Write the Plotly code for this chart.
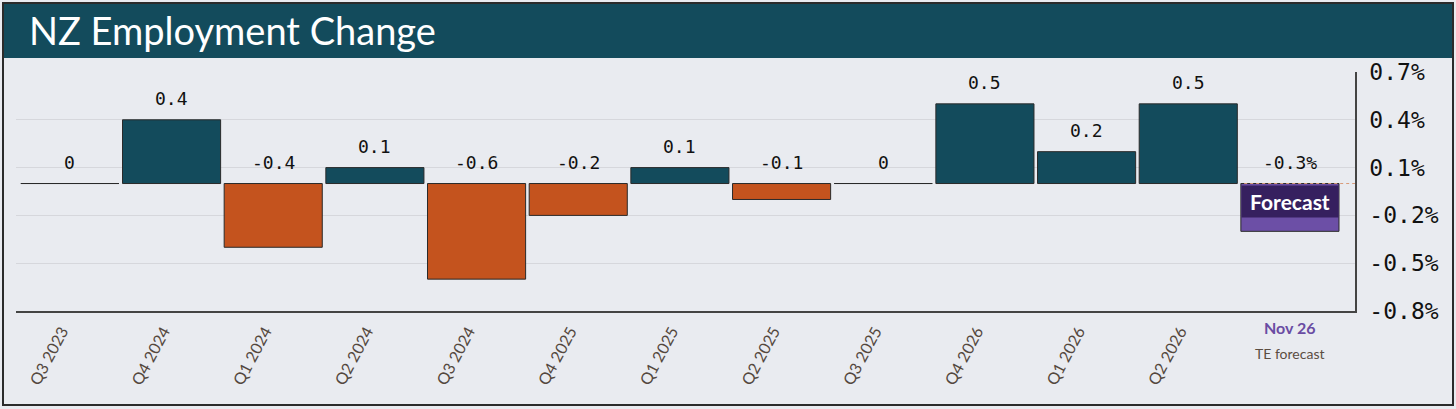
import plotly.graph_objects as go

categories = ["Q3 2023", "Q4 2024", "Q1 2024", "Q2 2024", "Q3 2024", "Q4 2025",
              "Q1 2025", "Q2 2025", "Q3 2025", "Q4 2026", "Q1 2026", "Q2 2026", "Nov 26"]
values = [0.0, 0.4, -0.4, 0.1, -0.6, -0.2, 0.1, -0.1, 0.0, 0.5, 0.2, 0.5, -0.3]
value_labels = ["0", "0.4", "-0.4", "0.1", "-0.6", "-0.2", "0.1", "-0.1", "0", "0.5", "0.2", "0.5", "-0.3%"]
tick_labels = categories[:-1] + [""]
ytick_vals = [0.7, 0.4, 0.1, -0.2, -0.5, -0.8]
ytick_text = ["0.7%", "0.4%", "0.1%", "-0.2%", "-0.5%", "-0.8%"]

TEAL = "#134b5c"
ORANGE = "#c4531e"
FC_LIGHT = "#6c4fa6"
FC_DARK = "#36205f"
BG = "#e9ebf0"

W, H = 1456, 409
L, R, T, B = 16, 1355, 72, 311


def xp(px):
    return (px - L) / (R - L)


def yp(py):
    return (B - py) / (B - T)


colors = []
for i, v in enumerate(values):
    if i == len(values) - 1:
        colors.append(FC_LIGHT)
    elif v >= 0:
        colors.append(TEAL)
    else:
        colors.append(ORANGE)

fig = go.Figure()
fig.add_trace(go.Bar(
    x=categories, y=values,
    marker=dict(color=colors, line=dict(color="#2a2a2a", width=1)),
    hoverinfo="skip",
))

annotations = []
for c, v, lab in zip(categories, values, value_labels):
    annotations.append(dict(
        x=c, y=max(v, 0), text=lab, showarrow=False, yanchor="bottom",
        yshift=9, font=dict(family="DejaVu Sans Mono", size=18, color="#111111"),
    ))

# Forecast label box
annotations.append(dict(
    x=categories[-1], y=0, yanchor="top", text="<b>Forecast</b>", showarrow=False,
    bgcolor=FC_DARK, width=94, height=29, borderpad=1, yshift=-1,
    font=dict(family="Lato", size=21, color="white"),
))
annotations.append(dict(
    x=categories[-1], xref="x", y=yp(327), yref="paper", yanchor="middle",
    text="<b>Nov 26</b>",
    showarrow=False, font=dict(family="Lato", size=16, color="#6a4ca3"),
))
annotations.append(dict(
    x=categories[-1], xref="x", y=yp(353), yref="paper", yanchor="middle",
    text="TE forecast",
    showarrow=False, font=dict(family="Lato", size=14, color="#5b4d42"),
))
# Title
annotations.append(dict(
    x=xp(27), xref="paper", y=yp(30), yref="paper", xanchor="left", yanchor="middle",
    text="NZ Employment Change", showarrow=False,
    font=dict(family="Lato", size=38, color="white"),
))

shapes = [
    # title bar
    dict(type="rect", xref="paper", yref="paper", x0=xp(3), x1=xp(1453), y0=yp(58), y1=yp(3),
         fillcolor=TEAL, line=dict(width=0), layer="below"),
    # outer border
    dict(type="rect", xref="paper", yref="paper", x0=xp(3), x1=xp(1453), y0=yp(405), y1=yp(3),
         line=dict(color="#2b2b2b", width=2)),
    # forecast dotted zero line
    dict(type="line", xref="x", yref="y", x0=11.55, x1=12.64, y0=0, y1=0,
         line=dict(color="#d99a78", width=1, dash="dot")),
]

fig.update_layout(
    width=W, height=H,
    margin=dict(l=L, r=W - R, t=T, b=H - B, pad=0),
    paper_bgcolor=BG, plot_bgcolor=BG,
    showlegend=False, bargap=0.035,
    annotations=annotations, shapes=shapes,
    xaxis=dict(
        type="category", range=[-0.53, 12.64],
        tickmode="array", tickvals=categories, ticktext=tick_labels,
        tickangle=-62, tickfont=dict(family="Lato", size=16, color="#54483e"),
        showgrid=False, showline=True, linecolor="#444444", linewidth=1.5,
        ticks="", zeroline=False, ticklabelstandoff=3, ticklabelshift=-8,
    ),
    yaxis=dict(
        side="right", range=[-0.8, 0.7],
        tickmode="array", tickvals=ytick_vals, ticktext=ytick_text,
        tickfont=dict(family="DejaVu Sans Mono", size=23, color="#111111"),
        showgrid=True, gridcolor="#d6d7dc", gridwidth=1,
        showline=True, linecolor="#444444", linewidth=1.5,
        zeroline=False, ticks="", ticklabelstandoff=8,
    ),
)

fig.write_html("out.html", config={"displayModeBar": False},
               post_script="document.body.style.margin='0';document.body.style.overflow='hidden';")
